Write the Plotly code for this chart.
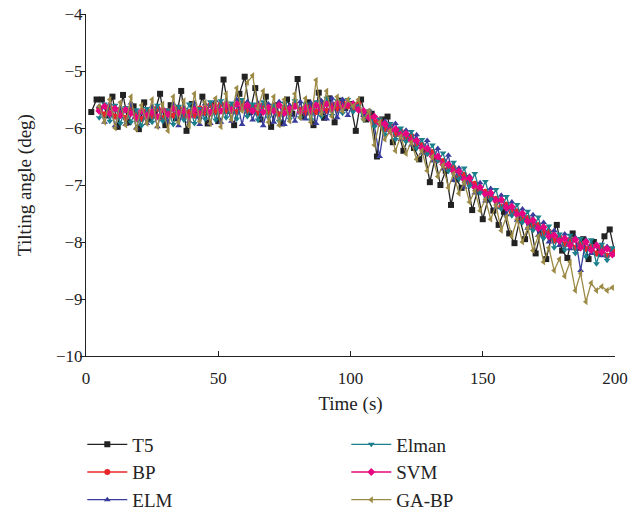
import plotly.graph_objects as go

# time stamps
t_ref = list(range(2, 201, 2))
t_mod = list(range(5, 200, 2))

t5 = [-5.72, -5.50, -5.50, -5.78, -5.45, -5.98, -5.42, -5.90, -5.62, -6.02,
      -5.55, -5.85, -5.72, -5.40, -5.95, -5.60, -5.83, -5.35, -6.05, -5.58,
      -5.78, -5.45, -5.92, -5.60, -5.88, -5.15, -5.70, -5.95, -5.40, -5.10,
      -5.72, -5.30, -5.85, -5.45, -5.98, -5.60, -5.92, -5.50, -5.75, -5.14,
      -5.80, -5.55, -5.95, -5.38, -5.82, -5.48, -5.90, -5.52, -5.65, -5.58,
      -6.05, -5.50, -5.85, -5.75, -6.50, -5.85, -5.80, -6.25, -6.05, -6.40,
      -6.15, -6.35, -6.55, -6.40, -6.95, -6.52, -7.00, -6.75, -7.35, -6.90,
      -7.05, -6.88, -7.44, -7.10, -7.60, -7.25, -7.45, -7.70, -7.47, -7.85,
      -8.02, -7.60, -7.95, -7.66, -8.20, -7.80, -8.30, -7.90, -7.70, -8.15,
      -8.28, -7.85, -8.10, -7.95, -8.30, -8.00, -8.20, -7.90, -7.78, -8.20]

bp = [-5.66, -5.76, -5.64, -5.80, -5.70, -5.82, -5.68, -5.76, -5.84, -5.70,
      -5.80, -5.66, -5.82, -5.70, -5.78, -5.64, -5.80, -5.72, -5.78, -5.66,
      -5.74, -5.60, -5.72, -5.58, -5.70, -5.62, -5.72, -5.56, -5.70, -5.62,
      -5.74, -5.60, -5.72, -5.62, -5.76, -5.64, -5.72, -5.58, -5.68, -5.74,
      -5.62, -5.72, -5.56, -5.70, -5.60, -5.66, -5.54, -5.62,
      -5.66, -5.58, -5.78, -5.72, -5.90, -5.86, -6.02, -5.96, -6.12, -6.06,
      -6.18, -6.14, -6.28, -6.30, -6.44, -6.42, -6.56, -6.58, -6.70, -6.70,
      -6.84, -6.82, -6.96, -6.98, -7.10, -7.12, -7.22, -7.24, -7.38, -7.34,
      -7.48, -7.46, -7.60, -7.58, -7.72, -7.70, -7.84, -7.82, -7.98, -7.92,
      -8.04, -7.96, -8.10, -8.02, -8.12, -8.08, -8.20, -8.10, -8.24, -8.16]

elm = [-5.62, -5.90, -5.58, -5.96, -5.64, -5.94, -5.56, -6.00, -5.70, -5.92,
       -5.62, -5.98, -5.66, -5.90, -5.58, -5.96, -5.64, -5.88, -5.56, -5.94,
       -5.58, -5.92, -5.52, -5.90, -5.56, -5.88, -5.50, -5.94, -5.54, -5.86,
       -5.56, -5.96, -5.58, -5.90, -5.54, -5.94, -5.60, -5.88, -5.54, -5.84,
       -5.56, -5.92, -5.52, -5.84, -5.48, -5.82, -5.50, -5.78,
       -5.56, -5.62, -5.78, -5.70, -5.96, -6.50, -5.88, -6.02, -5.92, -6.20,
       -6.04, -6.30, -6.12, -6.44, -6.22, -6.58, -6.36, -6.72, -6.48, -6.92,
       -6.70, -7.04, -6.84, -7.14, -6.96, -7.28, -7.06, -7.40, -7.18, -7.52,
       -7.30, -7.62, -7.42, -7.76, -7.52, -7.88, -7.66, -8.00, -7.80, -8.06,
       -7.86, -8.12, -7.92, -8.50, -7.96, -8.20, -8.04, -8.24, -8.08, -8.20]

elman = [-5.82, -5.58, -5.88, -5.60, -5.92, -5.64, -5.90, -5.68, -5.96, -5.66,
         -5.90, -5.60, -5.88, -5.68, -5.94, -5.62, -5.86, -5.58, -5.92, -5.66,
         -5.84, -5.54, -5.86, -5.52, -5.82, -5.56, -5.84, -5.50, -5.80, -5.58,
         -5.86, -5.54, -5.82, -5.60, -5.88, -5.56, -5.84, -5.52, -5.82, -5.58,
         -5.86, -5.54, -5.80, -5.48, -5.78, -5.52, -5.74, -5.50,
         -5.72, -5.62, -5.86, -5.70, -5.98, -5.84, -6.12, -5.92, -6.20, -6.00,
         -6.24, -6.06, -6.36, -6.20, -6.46, -6.30, -6.58, -6.44, -6.76, -6.60,
         -6.90, -6.70, -7.02, -6.80, -7.14, -6.94, -7.26, -7.08, -7.42, -7.20,
         -7.54, -7.34, -7.66, -7.46, -7.80, -7.56, -7.94, -7.72, -8.10, -7.86,
         -8.14, -7.88, -8.20, -7.94, -8.26, -7.96, -8.38, -8.04, -8.32, -8.10]

svm = [-5.70, -5.62, -5.75, -5.66, -5.78, -5.68, -5.74, -5.82, -5.70, -5.78,
       -5.72, -5.80, -5.68, -5.76, -5.66, -5.74, -5.70, -5.80, -5.68, -5.75,
       -5.65, -5.72, -5.62, -5.70, -5.60, -5.68, -5.58, -5.66, -5.60, -5.70,
       -5.62, -5.72, -5.64, -5.70, -5.60, -5.74, -5.66, -5.62, -5.72, -5.64,
       -5.70, -5.60, -5.68, -5.58, -5.66, -5.56, -5.64, -5.58,
       -5.58, -5.68, -5.70, -5.82, -5.80, -5.92, -5.93, -6.05, -6.02, -6.12,
       -6.10, -6.22, -6.22, -6.35, -6.36, -6.50, -6.50, -6.64, -6.64, -6.76,
       -6.76, -6.90, -6.88, -7.04, -7.04, -7.16, -7.14, -7.28, -7.26, -7.40,
       -7.38, -7.52, -7.50, -7.64, -7.62, -7.76, -7.74, -7.90, -7.88, -7.98,
       -7.94, -8.06, -7.96, -8.10, -8.00, -8.14, -8.06, -8.18, -8.12, -8.22]

ga_bp = [-5.62, -5.90, -5.50, -6.00, -5.55, -5.95, -5.45, -6.02, -5.60, -5.92,
         -5.50, -5.98, -5.58, -6.05, -5.45, -5.90, -5.52, -5.96, -5.40, -5.88,
         -5.55, -5.92, -5.48, -5.98, -5.40, -5.85, -5.30, -5.70, -5.20, -5.08,
         -5.65, -5.35, -5.90, -5.45, -5.95, -5.50, -5.88, -5.40, -5.82, -5.48,
         -5.90, -5.16, -5.75, -5.35, -5.80, -5.45, -5.70, -5.50,
         -5.62, -5.50, -5.85, -5.70, -6.30, -5.90, -6.20, -6.05, -6.40, -6.15,
         -6.45, -6.25, -6.55, -6.40, -6.75, -6.50, -6.85, -6.65, -7.05, -6.80,
         -7.15, -6.95, -7.30, -7.10, -7.45, -7.25, -7.60, -7.35, -7.80, -7.55,
         -7.90, -7.60, -8.00, -7.75, -8.15, -7.90, -8.35, -8.10, -8.50, -8.30,
         -8.60, -8.35, -8.85, -8.55, -9.05, -8.72, -8.85, -8.78, -8.85, -8.80]

series = [
    ("T5", t_ref, t5, "#222222", "square", 1),
    ("BP", t_mod, bp, "#e8262a", "circle", 3),
    ("ELM", t_mod, elm, "#383c9c", "triangle-up", 5),
    ("Elman", t_mod, elman, "#1b7f8c", "triangle-down", 2),
    ("SVM", t_mod, svm, "#e6067f", "diamond", 4),
    ("GA-BP", t_mod, ga_bp, "#9c8a45", "triangle-left", 6),
]

fig = go.Figure()
for name, x, y, col, sym, rank in series:
    fig.add_trace(go.Scatter(
        x=x, y=y, name=name, mode="lines+markers", legendrank=rank,
        line=dict(color=col, width=1.3),
        marker=dict(symbol=sym, size=6, color=col),
    ))

serif = "Liberation Serif, Times New Roman, serif"

fig.update_layout(
    width=643, height=513,
    margin=dict(l=86, r=28, t=14, b=157, autoexpand=False),
    plot_bgcolor="white", paper_bgcolor="white",
    font=dict(family=serif, size=17, color="#222"),
    showlegend=True,
    legend=dict(orientation="h", x=-0.007, xanchor="left", y=-0.203, yanchor="top",
                entrywidth=209, font=dict(size=19), tracegroupgap=0,
                itemwidth=40),
)
fig.update_xaxes(range=[0, 200], tickvals=[0, 50, 100, 150, 200],
                 showline=True, linecolor="#222", linewidth=1.2,
                 ticks="inside", ticklen=5, tickcolor="#222",
                 ticklabelstandoff=6,
                 showgrid=False, zeroline=False, automargin=False,
                 title=dict(text="Time (s)", standoff=10, font=dict(size=19)))
fig.update_yaxes(range=[-10, -4], dtick=1,
                 showline=True, linecolor="#222", linewidth=1.2,
                 ticks="outside", ticklen=5, tickcolor="#222",
                 ticklabelstandoff=-6,
                 showgrid=False, zeroline=False, automargin=False,
                 title=dict(text="Tilting angle (deg)", standoff=19, font=dict(size=19)))

# drop the default page margin so the figure sits at the window corner
fig.write_html("out.html", config={"displayModeBar": False},
               post_script="document.body.style.margin='0';")
